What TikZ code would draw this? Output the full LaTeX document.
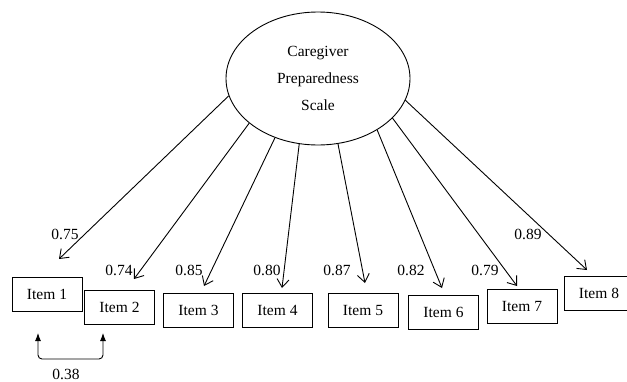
\documentclass[tikz,border=0pt]{standalone}
\usepackage{fontspec}
\setmainfont{Liberation Serif}
\usetikzlibrary{arrows.meta,shapes.geometric}
\begin{document}
\begin{tikzpicture}[x=1pt,y=-1pt,
  item/.style={draw,line width=1pt,minimum width=70pt,minimum height=34pt,inner sep=0pt,font=\fontsize{15.5}{18}\selectfont},
  load/.style={line width=0.9pt,-{Straight Barb[length=8pt,width=12pt,line width=0.9pt]}},
  lbl/.style={inner sep=0pt,font=\fontsize{15.5}{18}\selectfont},
  cov/.style={line width=0.9pt,{Latex[length=8pt,width=6pt]}-{Latex[length=8pt,width=6pt]},rounded corners=4pt}]
\clip (0,0) rectangle (627,381);
\useasboundingbox (0,0) rectangle (627,381);
\node[draw,ellipse,line width=0.9pt,minimum width=184pt,minimum height=133pt,inner sep=0pt,align=center,
  font=\fontsize{15.5}{27}\selectfont] (lv) at (318,78.5) {Caregiver\\Preparedness\\Scale};
\node[item] (i1) at (47,294.5) {Item 1};
\node[item] (i2) at (119.5,307.5) {Item 2};
\node[item] (i3) at (198.5,310) {Item 3};
\node[item] (i4) at (277.5,310) {Item 4};
\node[item] (i5) at (363,310) {Item 5};
\node[item] (i6) at (443.5,312) {Item 6};
\node[item] (i7) at (522,306) {Item 7};
\node[item] (i8) at (599,293) {Item 8};
\coordinate (e1) at (59,259);
\coordinate (e2) at (134,279);
\coordinate (e3) at (204,286);
\coordinate (e4) at (282,288);
\coordinate (e5) at (365,283);
\coordinate (e6) at (442,288);
\coordinate (e7) at (517,286);
\coordinate (e8) at (587,270);
\draw[load] (lv.191.5) -- (e1);
\draw[load] (lv.213) -- (e2);
\draw[load] (lv.234.1) -- (e3);
\draw[load] (lv.254.1) -- (e4);
\draw[load] (lv.287.2) -- (e5);
\draw[load] (lv.319.4) -- (e6);
\draw[load] (lv.332.8) -- (e7);
\draw[load] (lv.346.1) -- (e8);
\node[lbl] (l1) at (65,234) {0.75};
\node[lbl] (l2) at (119,270) {0.74};
\node[lbl] (l3) at (189,270) {0.85};
\node[lbl] (l4) at (267,270) {0.80};
\node[lbl] (l5) at (337,270) {0.87};
\node[lbl] (l6) at (411,270) {0.82};
\node[lbl] (l7) at (485,270) {0.79};
\node[lbl] (l8) at (528,234) {0.89};
\coordinate (c1) at (38,333);
\coordinate (c2) at (103,333);
\draw[cov] (c1) -- ++(0,26) -| (c2);
\node[lbl] (l9) at (66,374) {0.38};
\end{tikzpicture}
\end{document}
